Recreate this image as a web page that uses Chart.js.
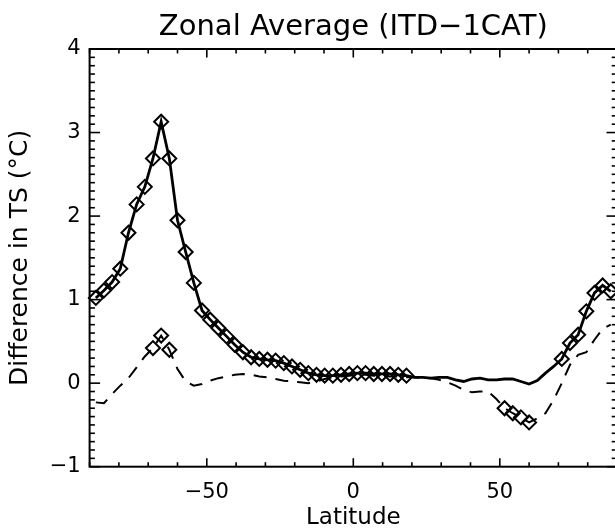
<!DOCTYPE html>
<html><head><meta charset="utf-8">
<script src="https://cdn.jsdelivr.net/npm/chart.js@4"></script>
<style>html,body{margin:0;padding:0;background:#fff;overflow:hidden}#wrap{width:615px;height:531px;overflow:hidden}</style>
</head><body><div id="wrap"><canvas id="c" width="617" height="531"></canvas></div>
<script>
// Gaussian latitudes (degrees)
const latitudes = [-87.86,-85.10,-82.31,-79.53,-76.74,-73.95,-71.16,-68.37,-65.58,-62.79,-60.00,-57.21,-54.42,-51.63,-48.84,-46.05,-43.26,-40.47,-37.67,-34.88,-32.09,-29.30,-26.51,-23.72,-20.93,-18.14,-15.35,-12.56,-9.77,-6.98,-4.19,-1.40,
  1.40,4.19,6.98,9.77,12.56,15.35,18.14,20.93,23.72,26.51,29.30,32.09,34.88,37.67,40.47,43.26,46.05,48.84,51.63,54.42,57.21,60.00,62.79,65.58,68.37,71.16,73.95,76.74,79.53,82.31,85.10,87.86];
// solid curve values
const solidValues = [1.02,1.11,1.21,1.37,1.80,2.14,2.35,2.69,3.13,2.69,1.95,1.57,1.20,0.87,0.76,0.66,0.56,0.46,0.37,0.31,0.29,0.28,0.27,0.24,0.20,0.16,0.12,0.10,0.09,0.09,0.10,0.11,
  0.12,0.12,0.11,0.11,0.11,0.10,0.09,0.07,0.07,0.06,0.07,0.07,0.04,0.02,0.05,0.06,0.04,0.04,0.05,0.05,0.02,-0.01,0.03,0.12,0.20,0.29,0.48,0.58,0.86,1.08,1.17,1.10];
// dashed curve values
const dashedValues = [-0.23,-0.24,-0.13,-0.03,0.06,0.19,0.32,0.42,0.57,0.40,0.17,0.02,-0.03,-0.01,0.03,0.06,0.08,0.10,0.11,0.10,0.08,0.07,0.05,0.03,0.02,0.01,0.00,0.02,0.05,0.07,0.08,0.09,
  0.10,0.10,0.09,0.09,0.08,0.08,0.07,0.07,0.06,0.06,0.04,0.01,-0.03,-0.08,-0.11,-0.10,-0.10,-0.19,-0.30,-0.36,-0.41,-0.47,-0.42,-0.36,-0.20,0.00,0.22,0.34,0.37,0.52,0.65,0.70];
// which points carry a diamond marker (1 = marked)
const solidMarked = [1,1,1,1,1,1,1,1,1,1,1,1,1,1,1,1,1,1,1,1,1,1,1,1,1,1,1,1,1,1,1,1,
  1,1,1,1,1,1,1,0,0,0,0,0,0,0,0,0,0,0,0,0,0,0,0,0,0,1,1,1,1,1,1,1];
const dashedMarked = [0,0,0,0,0,0,0,1,1,1,0,0,0,0,0,0,0,0,0,0,0,0,0,0,0,0,0,0,0,0,0,0,
  0,0,0,0,0,0,0,0,0,0,0,0,0,0,0,0,0,0,1,1,1,1,0,0,0,0,0,0,0,0,0,0];
const xTicks = [-50, 0, 50];
const yTicks = [-1, 0, 1, 2, 3, 4];
const xRange = [-90, 90];
const yRange = [-1, 4];
const xMinorStep = 10;
const yMinorStep = 0.1;
const titleText = 'Zonal Average (ITD\u22121CAT)';
const xTitle = 'Latitude';
const yTitle = 'Difference in TS (\u00B0C)';

const FONT = 'DejaVu Sans';
const fmt = v => (v < 0 ? '\u2212' + Math.abs(v) : String(v));

const framePlugin = {
  id: 'frame',
  afterDatasetsDraw(chart) {
    const {ctx, chartArea: a, scales: {x, y}} = chart;
    ctx.save();
    ctx.strokeStyle = '#000';
    ctx.lineWidth = 2;
    ctx.strokeRect(a.left, a.top, a.right - a.left, a.bottom - a.top);
    ctx.lineWidth = 1.6;
    const seg = (x1, y1, x2, y2) => { ctx.beginPath(); ctx.moveTo(x1, y1); ctx.lineTo(x2, y2); ctx.stroke(); };
    const nx = Math.round((xRange[1] - xRange[0]) / xMinorStep);
    for (let k = 0; k <= nx; k++) {
      const v = xRange[0] + k * xMinorStep;
      const px = x.getPixelForValue(v);
      const len = xTicks.includes(v) ? 8.5 : 4.5;
      seg(px, a.bottom, px, a.bottom - len);
      seg(px, a.top, px, a.top + len);
    }
    const ny = Math.round((yRange[1] - yRange[0]) / yMinorStep);
    for (let k = 0; k <= ny; k++) {
      const v = yRange[0] + k * yMinorStep;
      const py = y.getPixelForValue(v);
      const major = Math.abs(v - Math.round(v)) < 1e-6;
      const len = major ? 10.5 : 5.3;
      seg(a.left, py, a.left + len, py);
      seg(a.right, py, a.right - len, py);
    }
    ctx.restore();
  }
};

new Chart(document.getElementById('c'), {
  type: 'line',
  data: {
    datasets: [
      {
        data: latitudes.map((l, i) => ({x: l, y: solidValues[i]})),
        borderColor: '#000', borderWidth: 2.8, tension: 0,
        pointStyle: 'rectRot',
        pointRadius: c => solidMarked[c.dataIndex] ? 7 : 0,
        pointBorderWidth: 2, pointBorderColor: '#000', pointBackgroundColor: 'rgba(0,0,0,0)',
        clip: false
      },
      {
        data: latitudes.map((l, i) => ({x: l, y: dashedValues[i]})),
        borderColor: '#000', borderWidth: 2, borderDash: [13, 9], tension: 0,
        pointStyle: 'rectRot',
        pointRadius: c => dashedMarked[c.dataIndex] ? 7 : 0,
        pointBorderWidth: 2, pointBorderColor: '#000', pointBackgroundColor: 'rgba(0,0,0,0)',
        clip: false
      }
    ]
  },
  options: {
    responsive: false, animation: false, devicePixelRatio: 1,
    layout: {padding: 0, autoPadding: false},
    plugins: {
      legend: {display: false}, tooltip: {enabled: false},
      title: {display: true, text: titleText, fullSize: false, color: '#000',
        font: {family: FONT, size: 29, weight: 'normal', lineHeight: 1.2},
        padding: {top: 10, bottom: 4.2}}
    },
    scales: {
      x: {
        type: 'linear', min: xRange[0], max: xRange[1],
        afterBuildTicks: s => { s.ticks = xTicks.map(v => ({value: v})); },
        afterFit: s => { s.height = 64.3; s.paddingLeft = 0; s.paddingRight = 0; },
        grid: {display: false, drawTicks: false}, border: {display: false},
        ticks: {padding: 13, color: '#000', autoSkip: false, maxRotation: 0,
          font: {family: FONT, size: 21}, callback: v => fmt(v)},
        title: {display: true, text: xTitle, color: '#000',
          font: {family: FONT, size: 23, lineHeight: 1}, padding: {top: 0, bottom: 1}}
      },
      y: {
        type: 'linear', min: yRange[0], max: yRange[1],
        afterBuildTicks: s => { s.ticks = yTicks.map(v => ({value: v})); },
        afterFit: s => { s.width = 89.6; s.paddingTop = 0; s.paddingBottom = 0; },
        grid: {display: false, drawTicks: false}, border: {display: false},
        ticks: {padding: 9, color: '#000', font: {family: FONT, size: 21}, callback: v => fmt(v)},
        title: {display: true, text: yTitle, color: '#000',
          font: {family: FONT, size: 25, lineHeight: 1}, padding: {top: 8, bottom: 0}}
      }
    }
  },
  plugins: [framePlugin]
});
</script></body></html>
